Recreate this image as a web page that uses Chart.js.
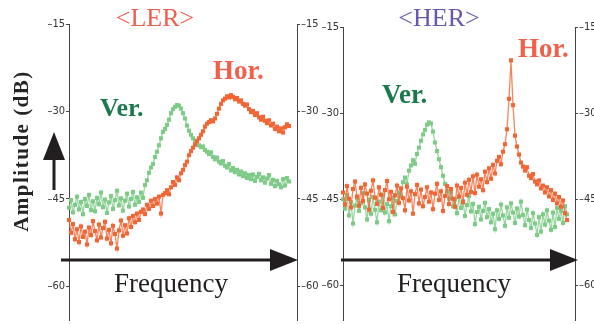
<!DOCTYPE html>
<html>
<head>
<meta charset="utf-8">
<script src="https://cdn.jsdelivr.net/npm/chart.js@4.4.0/dist/chart.umd.min.js"></script>
<style>
  html, body { margin: 0; padding: 0; background: #fff; }
  #wrap { position: relative; width: 594px; height: 324px; overflow: hidden; }
  #wrap canvas { position: absolute; top: 0; }
</style>
</head>
<body>
<div id="wrap">
  <canvas id="ler" width="320" height="324" style="left:0"></canvas>
  <canvas id="her" width="274" height="324" style="left:320px"></canvas>
  <canvas id="overlay" width="594" height="324" style="left:0"></canvas>
</div>
<script>
// amplitude ticks (dB)
var yTicks = [-15, -30, -45, -60];

// <LER> panel, amplitude in dB along the frequency sweep
var lerHor = [
  -48.6, -50.8, -49.3, -51.9, -50.2, -52.4, -49.7, -51.5, -50.6, -52.8,
  -49.9, -51.2, -48.8, -50.5, -52.1, -49.4, -51.6, -50.0, -48.9, -51.8,
  -50.3, -52.6, -49.6, -51.0, -53.5, -50.4, -48.7, -51.3, -49.5, -50.9,
  -48.3, -49.8, -47.9, -49.0, -47.5, -48.6, -47.2, -46.8, -47.6, -46.0,
  -46.7, -45.3, -46.2, -45.0, -45.8, -44.6, -47.5, -44.3, -44.0, -43.5,
  -44.2, -43.0, -42.1, -42.6, -41.3, -41.8, -40.6, -40.0, -39.2, -38.6,
  -37.5, -36.8, -36.2, -35.7, -35.1, -34.6, -34.0, -33.4, -32.6, -32.1,
  -31.8, -31.5, -31.7, -31.2, -30.4, -29.5, -28.7, -28.1, -27.8, -27.4,
  -27.6, -27.2, -27.5, -27.9, -27.7, -28.3, -28.1, -28.7, -29.0, -28.8,
  -29.6, -30.1, -29.9, -30.6, -30.3, -31.0, -31.4, -30.9, -31.6, -32.0,
  -31.5, -32.4, -32.1, -33.0, -32.6, -33.4, -32.9, -33.6, -32.7, -32.2,
  -32.5
];
var lerVer = [
  -46.5, -45.2, -47.3, -46.0, -44.6, -46.8, -45.5, -47.6, -45.0, -46.2,
  -44.3, -46.9, -45.4, -47.1, -44.8, -45.9, -43.9, -46.4, -45.1, -47.4,
  -45.6, -44.5, -46.7, -45.2, -43.6, -46.1, -44.9, -47.0, -45.3, -44.1,
  -46.3, -45.0, -43.8, -46.0, -44.7, -45.5, -43.9, -44.8, -42.6, -41.8,
  -40.5, -39.6, -39.0, -37.8, -36.9, -35.8, -34.6, -33.5, -33.0, -32.3,
  -31.4, -30.3, -29.6, -29.2, -28.9, -29.0, -29.5, -30.3, -31.2, -32.4,
  -33.3, -34.0, -34.6, -35.2, -35.0, -35.8, -36.1, -36.0, -36.6, -36.9,
  -37.3, -37.0, -37.8, -38.2, -37.9, -38.6, -38.9, -38.5, -39.3, -39.6,
  -39.0, -40.1, -39.7, -40.4, -40.0, -40.8, -40.3, -41.1, -40.6, -41.4,
  -40.9, -41.6, -40.8, -41.9, -41.2, -40.7, -41.8, -41.3, -42.2, -41.5,
  -40.9, -42.4, -41.7, -42.8, -41.9, -42.5, -43.0, -41.6, -42.7, -41.4,
  -42.0
];

// <HER> panel
var herHor = [
  -43.8, -45.9, -42.7, -44.9, -46.4, -43.2, -41.9, -44.5, -46.1, -43.0,
  -45.3, -42.4, -44.0, -46.8, -43.5, -41.7, -44.7, -45.8, -42.9, -44.2,
  -46.5, -43.4, -41.8, -45.0, -43.7, -47.2, -44.3, -42.6, -45.6, -43.1,
  -44.8, -46.9, -42.8, -45.2, -43.6, -47.5, -44.1, -42.5, -45.7, -43.3,
  -46.2, -44.6, -42.9, -45.4, -43.8, -46.7, -44.0, -42.3, -45.1, -43.6,
  -47.0, -44.4, -42.7, -45.8, -43.2, -44.9, -46.3, -42.6, -44.5, -43.0,
  -45.5, -42.1, -44.2, -41.6, -43.7, -41.0, -43.9, -40.7, -42.8, -41.5,
  -43.4, -40.2, -42.0, -39.6, -41.4, -39.0, -40.5, -38.3, -37.6, -38.9,
  -36.7, -35.4, -32.8, -27.5, -20.8, -28.6, -33.9, -35.8, -37.2, -38.6,
  -39.3, -40.0, -39.4, -40.9, -41.3, -40.6, -41.9, -42.4, -41.7, -43.1,
  -42.6, -43.8, -42.9, -44.5, -43.4, -45.1, -44.0, -45.7, -44.6, -46.3,
  -45.2, -47.4, -48.6
];
var herVer = [
  -45.0, -46.6, -44.3, -47.8, -45.5, -49.2, -46.1, -44.8, -47.0, -45.7,
  -43.9, -46.4, -48.5, -45.1, -47.5, -44.6, -46.8, -49.0, -45.4, -46.9,
  -44.2, -47.3, -45.8, -48.8, -46.2, -44.7, -47.6, -45.3, -43.8, -44.5,
  -42.0, -41.2, -42.4, -40.0, -39.1, -38.2, -38.8, -37.1, -36.0, -34.8,
  -33.7, -32.9, -32.0, -31.6, -31.8, -33.2, -35.1, -36.6, -38.0, -39.4,
  -40.9, -42.3, -43.6, -44.9, -43.7, -46.2, -45.0, -47.4, -44.6, -46.5,
  -45.3, -47.9, -46.0, -44.4, -47.1, -45.8, -49.3, -47.2, -46.3, -48.5,
  -47.0, -45.6, -48.1, -46.7, -49.0, -47.5, -50.2, -46.9, -48.4, -45.9,
  -47.8, -49.6, -46.4, -48.2, -45.7, -47.3, -49.1, -46.6, -48.0, -45.4,
  -47.7, -49.5, -46.8, -48.6, -50.0, -47.4, -49.2, -51.2, -48.1, -50.6,
  -47.6, -49.4, -46.9, -48.7, -50.3, -47.3, -49.8, -46.5, -48.4, -47.0,
  -49.1, -46.2, -47.6
];

var HOR = '#f26636';
var HOR_LINE = 'rgba(242,102,54,0.8)';
var VER = '#7ecb88';
var VER_LINE = 'rgba(126,203,136,0.8)';

function series(arr, color, line) {
  return {
    data: arr.map(function (v, i) { return { x: i, y: v }; }),
    borderColor: line,
    borderWidth: 1.3,
    pointStyle: 'rect',
    pointRadius: 2.9,
    pointBackgroundColor: color,
    pointBorderWidth: 0,
    tension: 0,
    clip: 6
  };
}

function yAxis(pos, width, min) {
  return {
    type: 'linear',
    position: pos,
    min: min,
    max: -15,
    afterBuildTicks: function (s) { s.ticks = yTicks.map(function (v) { return { value: v }; }); },
    afterFit: function (s) { s.width = width; s.paddingTop = 0; s.paddingBottom = 0; },
    border: { display: true, color: '#444', width: 1 },
    grid: { drawOnChartArea: false, drawTicks: true, tickLength: 3, color: '#444' },
    ticks: {
      padding: 1,
      color: '#333',
      font: { family: "'Liberation Sans Narrow', 'DejaVu Sans Condensed', sans-serif", size: 11 },
      callback: function (v) { return String(v).replace('-', '\u2013'); }
    }
  };
}

function panel(id, hor, ver, xMax, leftW, rightW, top, min) {
  return new Chart(document.getElementById(id), {
    type: 'line',
    data: { datasets: [series(hor, HOR, HOR_LINE), series(ver, VER, VER_LINE)] },
    options: {
      responsive: false,
      animation: false,
      layout: { padding: { top: top, bottom: 0, left: 0, right: 0 } },
      plugins: { legend: { display: false }, tooltip: { enabled: false } },
      scales: {
        x: { type: 'linear', display: false, min: 0, max: xMax },
        y: yAxis('left', leftW, min),
        y2: yAxis('right', rightW, min)
      }
    }
  });
}

panel('ler', lerHor, lerVer, 114, 69, 23, 24, -65.75);
panel('her', herHor, herVer, 116, 23, 19, 27, -66.0);

// annotations: titles, labels, arrows
(function () {
  var c = document.getElementById('overlay').getContext('2d');
  var serif = "'Liberation Serif', 'Times New Roman', serif";

  function text(s, x, y, font, color, align) {
    c.font = font;
    c.fillStyle = color;
    c.textAlign = align || 'left';
    c.textBaseline = 'alphabetic';
    c.fillText(s, x, y);
  }

  text('<LER>', 155, 26, '26px ' + serif, '#ef5f4f', 'center');
  text('<HER>', 439, 26, '26px ' + serif, '#6857ad', 'center');
  text('Hor.', 213, 79, 'bold 27px ' + serif, '#f0604a');
  text('Ver.', 100, 116, 'bold 26px ' + serif, '#1b7a4c');
  text('Hor.', 518, 57, 'bold 27px ' + serif, '#f0604a');
  text('Ver.', 382, 103, 'bold 27px ' + serif, '#1b7a4c');
  text('Frequency', 171, 292, '27px ' + serif, '#231f20', 'center');
  text('Frequency', 454, 292, '27px ' + serif, '#231f20', 'center');

  // vertical axis title
  c.save();
  c.translate(28, 151);
  c.rotate(-Math.PI / 2);
  if ('letterSpacing' in c) c.letterSpacing = '1.5px';
  text('Amplitude (dB)', 0, 0, 'bold 21px ' + serif, '#262424', 'center');
  c.restore();

  c.fillStyle = '#231f20';
  c.strokeStyle = '#231f20';
  c.lineWidth = 3;

  // up arrow
  c.beginPath(); c.moveTo(54, 190); c.lineTo(54, 158); c.stroke();
  c.beginPath(); c.moveTo(54, 132); c.lineTo(65, 160); c.lineTo(43, 160); c.closePath(); c.fill();

  // frequency arrows
  function hArrow(x0, x1) {
    c.beginPath(); c.moveTo(x0, 260); c.lineTo(x1 - 26, 260); c.stroke();
    c.beginPath(); c.moveTo(x1, 260); c.lineTo(x1 - 28, 249); c.lineTo(x1 - 28, 271); c.closePath(); c.fill();
  }
  hArrow(61, 298);
  hArrow(341, 578);
})();
</script>
</body>
</html>
